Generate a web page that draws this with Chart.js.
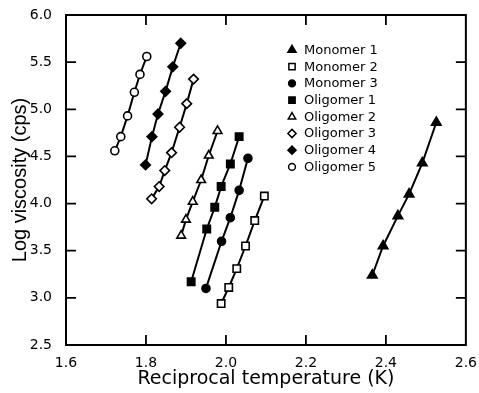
<!DOCTYPE html>
<html>
<head>
<meta charset="utf-8">
<script src="https://cdn.jsdelivr.net/npm/chart.js@4.4.1/dist/chart.umd.min.js"></script>
<style>
  html, body { margin: 0; padding: 0; background: #fff; }
</style>
</head>
<body>
<canvas id="chart-viscosity" width="479" height="393"></canvas>
<script>
//SERIES DATA (reciprocal temperature, log viscosity)
var seriesNames = ["Monomer 1", "Monomer 2", "Monomer 3", "Oligomer 1",
                   "Oligomer 2", "Oligomer 3", "Oligomer 4", "Oligomer 5"];

var monomer1X = [2.366, 2.393, 2.430, 2.458, 2.491, 2.526];
var monomer1Y = [3.24, 3.55, 3.87, 4.10, 4.43, 4.86];
var monomer2X = [1.988, 2.007, 2.027, 2.049, 2.072, 2.096];
var monomer2Y = [2.94, 3.11, 3.31, 3.55, 3.82, 4.08];
var monomer3X = [1.950, 1.989, 2.011, 2.033, 2.055];
var monomer3Y = [3.10, 3.60, 3.85, 4.14, 4.48];
var oligomer1X = [1.913, 1.952, 1.972, 1.988, 2.011, 2.033];
var oligomer1Y = [3.17, 3.73, 3.96, 4.18, 4.42, 4.71];
var oligomer2X = [1.888, 1.900, 1.917, 1.938, 1.957, 1.979];
var oligomer2Y = [3.66, 3.83, 4.02, 4.25, 4.51, 4.77];
var oligomer3X = [1.814, 1.833, 1.847, 1.864, 1.884, 1.902, 1.919];
var oligomer3Y = [4.05, 4.18, 4.35, 4.54, 4.81, 5.06, 5.32];
var oligomer4X = [1.799, 1.815, 1.830, 1.849, 1.867, 1.887];
var oligomer4Y = [4.41, 4.71, 4.95, 5.19, 5.45, 5.70];
var oligomer5X = [1.722, 1.737, 1.754, 1.771, 1.785, 1.802];
var oligomer5Y = [4.56, 4.71, 4.93, 5.18, 5.37, 5.56];

//AXIS RANGES
var xRange = [1.6, 2.6];
var yRange = [2.5, 6.0];

var FONT = "'DejaVu Sans', 'Liberation Sans', Arial, sans-serif";

/*************************MARKER STYLES*******************/
var markers = [
  { style: "triangle", fill: "#000", r: 5.5 },
  { style: "rect", fill: "#fff", r: 5.2 },
  { style: "circle", fill: "#000", r: 4 },
  { style: "rect", fill: "#000", r: 5.2 },
  { style: "triangle", fill: "#fff", r: 5 },
  { style: "rectRot", fill: "#fff", r: 4.8 },
  { style: "rectRot", fill: "#000", r: 4.8 },
  { style: "circle", fill: "#fff", r: 4 }
];

function zip(xs, ys) {
  return xs.map(function (x, i) { return { x: x, y: ys[i] }; });
}

var seriesData = [
  zip(monomer1X, monomer1Y), zip(monomer2X, monomer2Y), zip(monomer3X, monomer3Y),
  zip(oligomer1X, oligomer1Y), zip(oligomer2X, oligomer2Y), zip(oligomer3X, oligomer3Y),
  zip(oligomer4X, oligomer4Y), zip(oligomer5X, oligomer5Y)
];

var datasets = seriesNames.map(function (name, i) {
  return {
    label: name,
    data: seriesData[i],
    showLine: true,
    borderColor: "#000",
    borderWidth: 2,
    pointStyle: markers[i].style,
    pointRadius: markers[i].r,
    pointBackgroundColor: markers[i].fill,
    pointBorderColor: "#000",
    pointBorderWidth: 1.6
  };
});

//FRAME + INWARD TICKS + LEGEND
var framePlugin = {
  id: "frame",
  afterDraw: function (chart) {
    var ctx = chart.ctx;
    var a = chart.chartArea;
    var xs = chart.scales.x, ys = chart.scales.y;
    var tl = 10;
    ctx.save();
    ctx.strokeStyle = "#000";
    ctx.lineWidth = 2;
    ctx.strokeRect(a.left, a.top, a.right - a.left, a.bottom - a.top);
    ctx.lineWidth = 1.8;
    ctx.beginPath();
    xs.ticks.forEach(function (t) {
      if (t.value <= xRange[0] || t.value >= xRange[1]) return;
      var px = xs.getPixelForValue(t.value);
      ctx.moveTo(px, a.bottom); ctx.lineTo(px, a.bottom - tl);
      ctx.moveTo(px, a.top); ctx.lineTo(px, a.top + tl);
    });
    ys.ticks.forEach(function (t) {
      if (t.value <= yRange[0] || t.value >= yRange[1]) return;
      var py = ys.getPixelForValue(t.value);
      ctx.moveTo(a.left, py); ctx.lineTo(a.left + tl, py);
      ctx.moveTo(a.right, py); ctx.lineTo(a.right - tl, py);
    });
    ctx.stroke();

    // legend inside the plot
    var lx = 292, ly = 50, step = 16.7;
    ctx.font = "13px " + FONT;
    ctx.textBaseline = "middle";
    ctx.textAlign = "left";
    chart.data.datasets.forEach(function (ds, i) {
      var y = ly + i * step;
      ctx.fillStyle = markers[i].fill;
      ctx.strokeStyle = "#000";
      ctx.lineWidth = 1.5;
      Chart.helpers.drawPoint(ctx, {
        pointStyle: markers[i].style, radius: markers[i].r * 0.85,
        rotation: 0, borderWidth: 1.5
      }, lx, y);
      ctx.fillStyle = "#000";
      ctx.fillText(ds.label, lx + 12, y + 0.5);
    });
    ctx.restore();
  }
};

/*************************CHART CONFIGURATION*******************/
var config = {
  type: "scatter",
  data: { datasets: datasets },
  options: {
    responsive: false,
    animation: false,
    layout: { padding: { top: 15, right: 12, left: 0, bottom: 0 } },
    plugins: {
      legend: { display: false },
      tooltip: { enabled: false }
    },
    scales: {
      x: {
        type: "linear",
        min: xRange[0],
        max: xRange[1],
        grid: { display: false },
        border: { display: false },
        ticks: {
          stepSize: 0.2,
          padding: 2,
          color: "#000",
          font: { family: FONT, size: 14 },
          callback: function (v) { return v.toFixed(1); }
        },
        title: {
          display: true,
          text: "Reciprocal temperature (K)",
          color: "#000",
          font: { family: FONT, size: 19 },
          padding: { top: 0, bottom: 3 }
        },
        afterFit: function (scale) { scale.height = 48; }
      },
      y: {
        type: "linear",
        min: yRange[0],
        max: yRange[1],
        grid: { display: false },
        border: { display: false },
        ticks: {
          stepSize: 0.5,
          padding: 6,
          color: "#000",
          font: { family: FONT, size: 14 },
          callback: function (v) { return v.toFixed(1); }
        },
        title: {
          display: true,
          text: "Log viscosity (cps)",
          color: "#000",
          font: { family: "'Liberation Sans', Arial, sans-serif", size: 20 },
          padding: { top: 8, bottom: 0 }
        },
        afterFit: function (scale) { scale.width = 66; }
      }
    }
  },
  plugins: [framePlugin]
};

//ONLOAD
window.onload = function () {
  var ctx = document.getElementById("chart-viscosity").getContext("2d");
  window.viscChart = new Chart(ctx, config);
};
</script>
</body>
</html>
